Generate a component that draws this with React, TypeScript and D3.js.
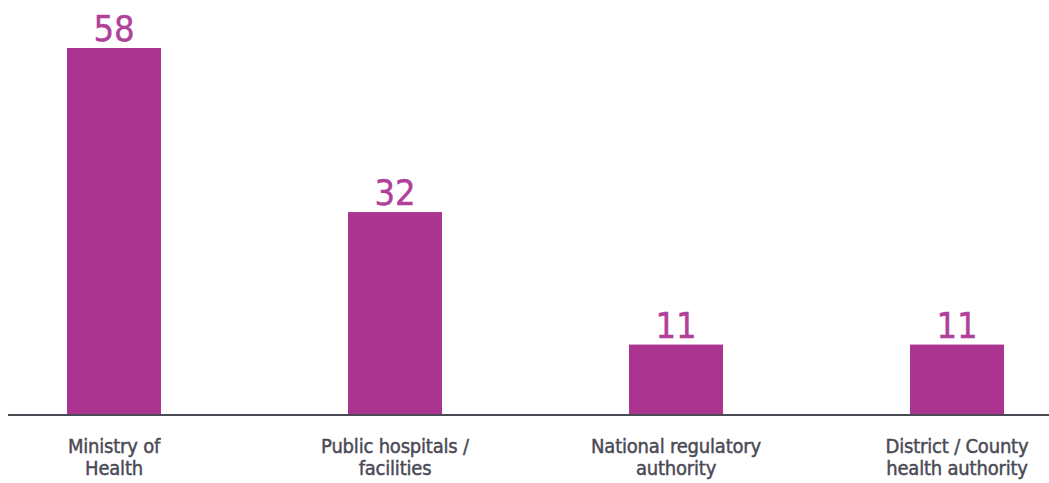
import React from "react";
import * as d3 from "d3";

const categories: string[][] = [
  ["Ministry of", "Health"],
  ["Public hospitals /", "facilities"],
  ["National regulatory", "authority"],
  ["District / County", "health authority"],
];
const values: number[] = [58, 32, 11, 11];

const W = 1049;
const H = 483;
const BAR = "#aa3490";
const LABEL = "#b0409a";
const AXIS = "#4a4a55";
const FONT = "'DejaVu Sans Condensed', 'DejaVu Sans', sans-serif";

export default function App() {
  const x = d3
    .scaleBand<number>()
    .domain(d3.range(values.length))
    .range([-26.5, 1097.5])
    .paddingInner(1 - 94 / 281)
    .paddingOuter((1 - 94 / 281) / 2);
  const y = d3.scaleLinear().domain([0, 58]).range([414, 48]);

  return (
    <svg
      width={W}
      height={H}
      style={{ position: "absolute", left: 0, top: 0, background: "#fff" }}
    >
      {values.map((v, i) => {
        const x0 = x(i)!;
        const cx = x0 + x.bandwidth() / 2;
        return (
          <g key={i}>
            <rect x={x0} y={y(v)} width={x.bandwidth()} height={y(0) - y(v)} fill={BAR} />
            <text
              x={cx}
              y={y(v) - 7}
              textAnchor="middle"
              fontFamily={FONT}
              fontSize={36}
              fill={LABEL}
              stroke={LABEL}
              strokeWidth={0.4}
            >
              {v}
            </text>
            {categories[i].map((line, j) => (
              <text
                key={j}
                x={cx}
                y={452.5 + j * 22.5}
                textAnchor="middle"
                fontFamily={FONT}
                fontSize={20}
                fill={AXIS}
                stroke={AXIS}
                strokeWidth={0.45}
                letterSpacing={-0.2}
              >
                {line}
              </text>
            ))}
          </g>
        );
      })}
      <line x1={8} x2={W} y1={y(0) + 1} y2={y(0) + 1} stroke={AXIS} strokeWidth={2} />
    </svg>
  );
}
